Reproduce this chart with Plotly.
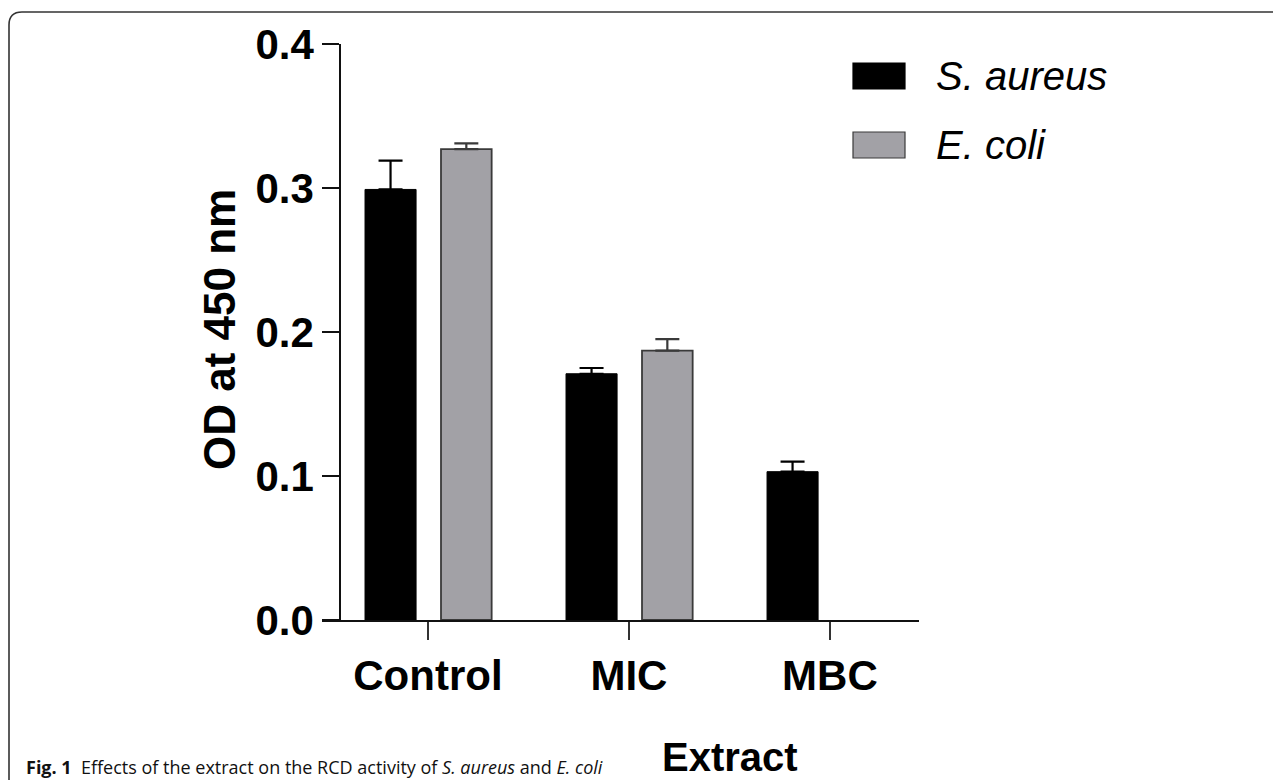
import plotly.graph_objects as go

# ---- data ----
categories = ["Control", "MIC", "MBC"]
s_aureus = [0.299, 0.171, 0.103]
s_aureus_err = [0.020, 0.004, 0.007]
e_coli = [0.327, 0.187, None]   # no E. coli bar at MBC
e_coli_err = [0.004, 0.008, None]
y_ticks = [0.0, 0.1, 0.2, 0.3, 0.4]
y_tick_text = ["0.0", "0.1", "0.2", "0.3", "0.4"]

W, H = 1281, 780
OFF = 8  # page body margin
L, R, T, B = 322, 919, 44, 620  # plot area in window px


def px(x):
    return (x - L) / (R - L)


def py(y):
    return (B - y) / (B - T)


FONT = "Liberation Sans, Arial, sans-serif"
GRAY = "#a2a1a6"

fig = go.Figure()
fig.add_trace(go.Bar(
    x=categories, y=s_aureus, name="S. aureus",
    offset=-0.313, width=0.254,
    marker=dict(color="black", line=dict(color="black", width=1)),
    error_y=dict(type="data", array=s_aureus_err, arrayminus=[0, 0, 0],
                 symmetric=False, color="black", thickness=2.2, width=12),
))
fig.add_trace(go.Bar(
    x=categories, y=e_coli, name="E. coli",
    offset=0.065, width=0.252,
    marker=dict(color=GRAY, line=dict(color="#3a3a3a", width=1.8)),
    error_y=dict(type="data", array=e_coli_err, arrayminus=[0, 0, 0],
                 symmetric=False, color="#3a3a3a", thickness=2.2, width=12),
))

fig.update_layout(
    width=W - OFF, height=H - OFF,
    margin=dict(l=L - OFF, r=W - R, t=T - OFF, b=H - B, pad=0),
    plot_bgcolor="white", paper_bgcolor="white",
    barmode="overlay", showlegend=False,
    font=dict(family=FONT, color="black"),
    xaxis=dict(
        range=[-0.527, 2.443], showgrid=False, zeroline=False,
        showline=True, linecolor="#111", linewidth=1.6,
        ticks="outside", ticklen=18, tickwidth=1.6, tickcolor="#333",
        tickfont=dict(size=42, family=FONT, weight="bold"),
    ),
    yaxis=dict(
        range=[0, 0.4], anchor="free", position=px(340),
        tickvals=y_ticks, ticktext=y_tick_text,
        showgrid=False, zeroline=False,
        showline=True, linecolor="#111", linewidth=1.6,
        ticks="outside", ticklen=17, tickwidth=1.6, tickcolor="#111",
        tickfont=dict(size=42, family=FONT, weight="bold"),
    ),
)

# y-axis title
fig.add_annotation(text="<b>OD at 450 nm</b>", xref="paper", yref="paper",
                   x=px(219), y=py(330), textangle=-90, showarrow=False,
                   font=dict(size=44, family=FONT), xanchor="center", yanchor="middle")
# x-axis title
fig.add_annotation(text="<b>Extract</b>", xref="paper", yref="paper",
                   x=px(730), y=py(757), showarrow=False,
                   font=dict(size=40, family=FONT), xanchor="center", yanchor="middle")

# legend drawn manually
legend_items = [("S. aureus", "black", "black", 76), ("E. coli", GRAY, "#3a3a3a", 145)]
for name, fill, line, cy in legend_items:
    fig.add_shape(type="rect", xref="paper", yref="paper",
                  x0=px(853), x1=px(905), y0=py(cy - 13), y1=py(cy + 13),
                  fillcolor=fill, line=dict(color=line, width=1.2))
    fig.add_annotation(text=f"<i>{name}</i>", xref="paper", yref="paper",
                       x=px(934), y=py(cy), showarrow=False, xanchor="left", yanchor="middle",
                       font=dict(size=40, family=FONT))

# caption
fig.add_annotation(
    text="<b>Fig. 1</b>  Effects of the extract on the RCD activity of <i>S. aureus</i> and <i>E. coli</i>",
    xref="paper", yref="paper", x=px(24), y=py(767), showarrow=False,
    xanchor="left", yanchor="middle",
    font=dict(size=18, family="Open Sans, Noto Sans, sans-serif", color="#111"))

# outer frame (rounded top-left corner)
path = (f"M {px(9)},{py(800)} L {px(9)},{py(25)} Q {px(9)},{py(12)} {px(22)},{py(12)} "
        f"L {px(1300)},{py(12)}")
fig.add_shape(type="path", xref="paper", yref="paper", path=path,
              line=dict(color="#333", width=1.6))

fig.write_html("out.html")
